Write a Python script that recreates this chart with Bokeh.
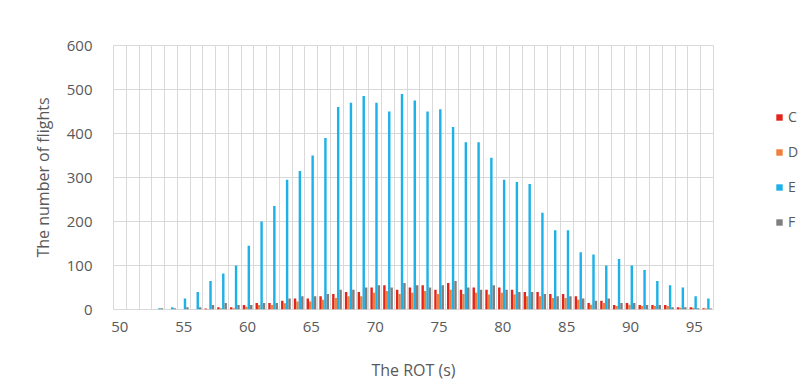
from bokeh.plotting import figure
from bokeh.layouts import row
from bokeh.models import ColumnDataSource, FixedTicker, Legend, LegendItem
from bokeh.transform import dodge
from bokeh.embed import file_html
from bokeh.resources import INLINE

rot = list(range(50, 97))
C = [0, 0, 0, 0, 0, 0, 0, 2, 5, 5, 10, 15, 15, 20, 25, 25, 30, 35, 40, 40,
     50, 55, 45, 50, 55, 45, 60, 45, 50, 45, 50, 45, 40, 40, 35, 35, 30, 15,
     20, 10, 15, 10, 10, 10, 5, 5, 3]
D = [0, 0, 0, 0, 0, 0, 0, 1, 3, 3, 6, 10, 10, 14, 18, 18, 22, 26, 30, 30,
     38, 42, 35, 38, 42, 35, 45, 35, 38, 34, 38, 34, 30, 30, 26, 26, 22, 11,
     15, 8, 11, 8, 8, 8, 4, 4, 2]
E = [0, 0, 0, 3, 5, 25, 40, 65, 82, 100, 145, 200, 235, 295, 315, 350, 390,
     460, 470, 485, 470, 450, 490, 475, 450, 455, 415, 380, 380, 345, 295,
     290, 285, 220, 180, 180, 130, 125, 100, 115, 100, 90, 65, 55, 50, 30, 25]
F = [0, 0, 0, 3, 3, 5, 5, 10, 15, 10, 10, 15, 15, 25, 30, 30, 35, 45, 45, 50,
     55, 50, 60, 55, 50, 55, 65, 50, 45, 55, 45, 40, 40, 35, 30, 30, 25, 20,
     25, 15, 15, 10, 10, 5, 5, 3, 2]
series = ["C", "D", "E", "F"]
colors = ["#E3241B", "#F07F3C", "#1EB1E8", "#7F7F7F"]
x_ticks = list(range(50, 96, 5))
y_ticks = [0, 100, 200, 300, 400, 500, 600]

p = figure(width=714, height=389, output_backend="svg", toolbar_location=None,
           x_range=(rot[0] - 0.5, rot[-1] + 0.5), y_range=(0, 600),
           min_border_left=113, min_border_right=1, min_border_top=45,
           min_border_bottom=80)

src = ColumnDataSource(dict(x=rot, C=C, D=D, E=E, F=F))
w = 0.19
offsets = [-0.28, -0.09, 0.1, 0.29]
for s, c, off in zip(series, colors, offsets):
    p.vbar(x=dodge("x", off), top=s, width=w, source=src,
           fill_color=c, line_color=None)

p.xaxis.ticker = FixedTicker(ticks=x_ticks)
p.yaxis.ticker = FixedTicker(ticks=y_ticks)
p.xgrid.ticker = FixedTicker(ticks=[v - 0.5 for v in rot] + [rot[-1] + 0.5])
p.ygrid.ticker = FixedTicker(ticks=y_ticks)
p.xgrid.grid_line_color = "#D9D9D9"
p.ygrid.grid_line_color = "#D9D9D9"
p.outline_line_color = "#D9D9D9"

for ax in (p.xaxis[0], p.yaxis[0]):
    ax.axis_line_color = None
    ax.major_tick_line_color = None
    ax.minor_tick_line_color = None
    ax.major_label_text_color = "#595959"
    ax.major_label_text_font = "Open Sans"
    ax.major_label_text_font_size = "15px"
    ax.axis_label_text_color = "#595959"
    ax.axis_label_text_font = "Open Sans"
    ax.axis_label_text_font_size = "16px"
    ax.axis_label_text_font_style = "normal"

p.xaxis.axis_label = "The ROT (s)"
p.yaxis.axis_label = "The number of flights"
p.xaxis.major_label_standoff = 6
p.yaxis.major_label_standoff = 15
p.xaxis.axis_label_standoff = 24
p.yaxis.axis_label_standoff = 10

# legend panel (its bars lie outside its own view; only the legend shows)
pl = figure(width=87, height=389, output_backend="svg", toolbar_location=None,
            x_range=(0, 1), y_range=(0, 1), min_border=0,
            x_axis_type=None, y_axis_type=None)
pl.outline_line_color = None
pl.grid.visible = False
dummies = []
for s, c in zip(series, colors):
    dummies.append(pl.vbar(x="x", top=s, width=w, source=src,
                           fill_color=c, line_color=None))

legend = Legend(items=[LegendItem(label=s, renderers=[r]) for s, r in zip(series, dummies)],
                location=(61, 78), glyph_width=8, glyph_height=8, padding=0, margin=0,
                label_text_font="Open Sans", label_text_font_size="14px",
                label_text_color="#595959", spacing=16, border_line_color=None,
                background_fill_alpha=0)
pl.add_layout(legend, "center")

layout = row(p, pl)
open("out.html", "w").write(file_html(layout, INLINE))
